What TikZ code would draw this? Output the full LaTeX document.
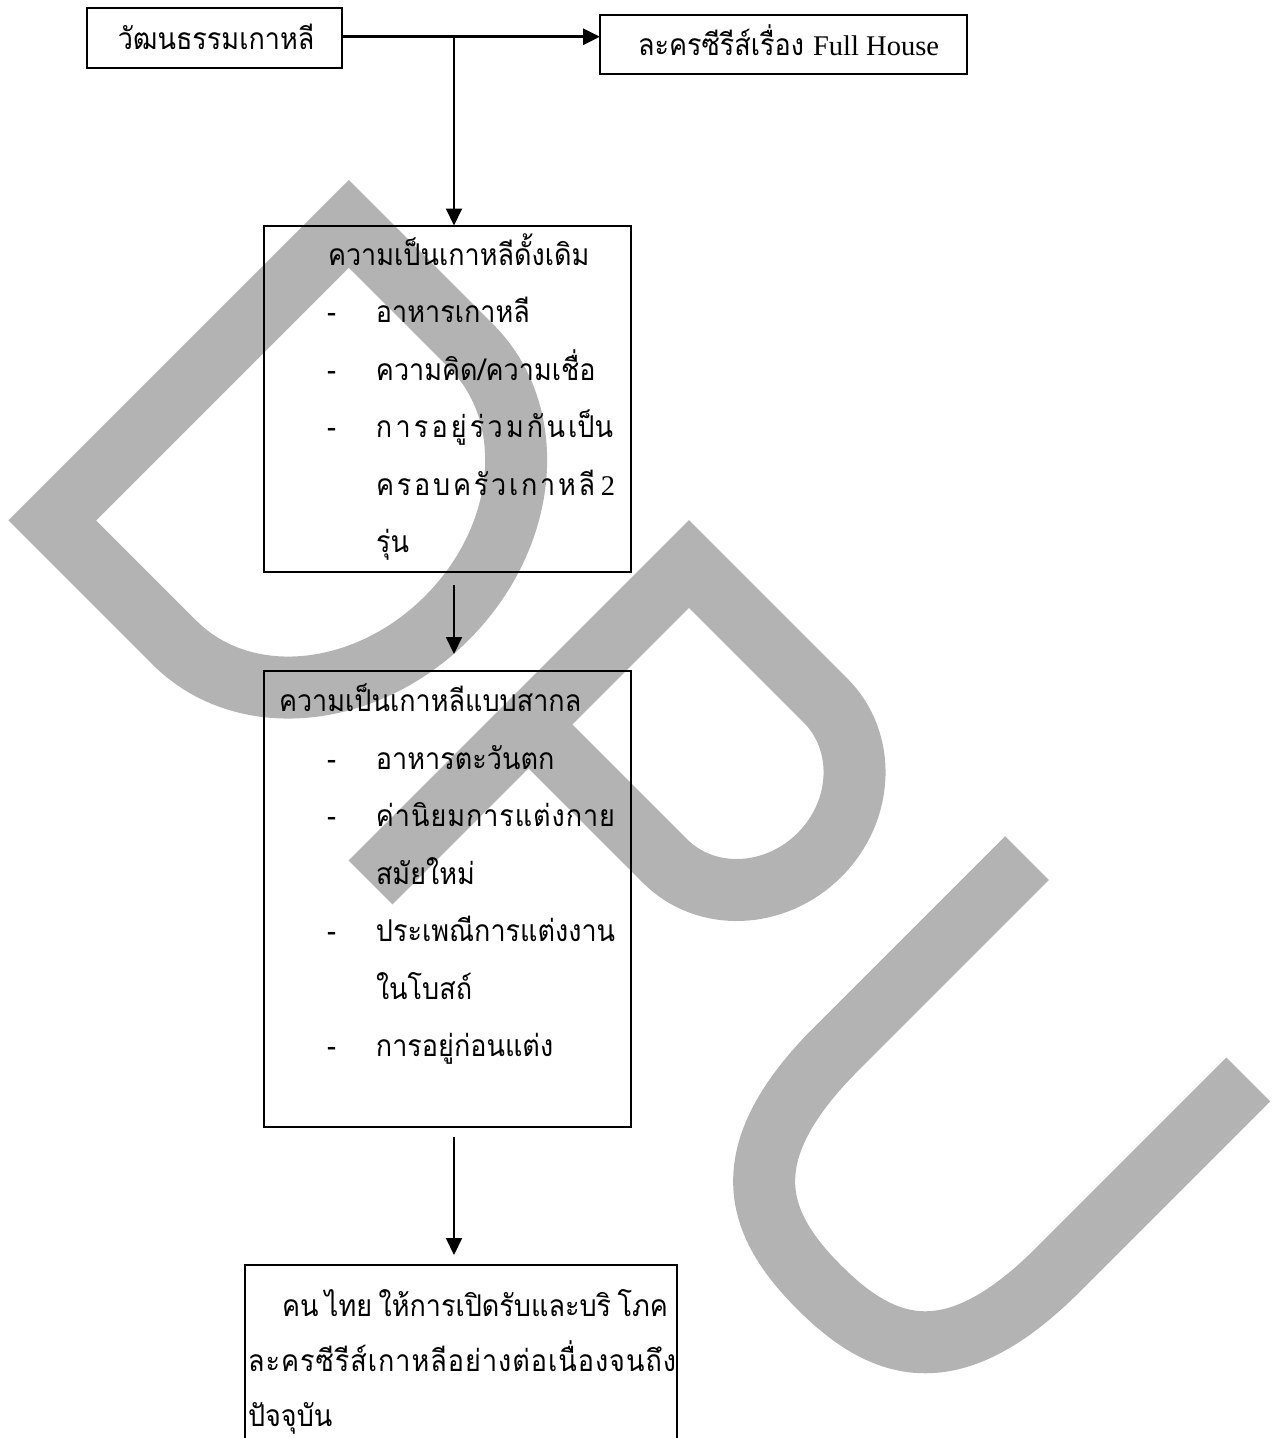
\documentclass[tikz,border=0pt]{standalone}
\usepackage{fontspec}
\usepackage{tikz}
\usetikzlibrary{arrows.meta}
\newfontfamily\thaifont[Script=Thai,FakeStretch=0.9]{Loma}
\newfontfamily\latinfont[Scale=0.95]{Liberation Serif}
\definecolor{wmgray}{RGB}{179,179,179}
\newlength\px
\setlength\px{0.02cm}
% box text: width, height, first baseline, line skip, lines
\newcommand\boxtext[5]{\parbox[c][#2\px][t]{#1\px}{\thaifont\fontsize{30\px}{#4\px}\selectfont\rule{0pt}{#3\px}#5}}
\newcommand\dashitem[1]{\hspace*{63\px}\makebox[49\px][l]{-}#1}
\newcommand\contline[1]{\hspace*{112\px}#1}
\newcommand\spread[2]{\makebox[#1\px][s]{#2}}

\tikzset{
  frame/.style={draw=black,line width=0.04cm,inner sep=0pt,outer sep=0pt,anchor=north west},
  link/.style={->,line width=0.04cm},
  wm/.style={draw=wmgray,line width=1.24cm,line join=miter}
}

\begin{document}
\begin{tikzpicture}[>={Triangle[length=0.34cm,width=0.32cm]},x=0.02cm,y=-0.02cm]
\clip (0,0) rectangle (1274,1438);
% watermark DPU, drawn in the slanted letter frame
\begin{scope}[x={(0.014142cm,-0.014142cm)},y={(0.014142cm,0.014142cm)}]
\draw[wm] (405,88.4) -- (405,-331) -- (578,-331) .. controls (674.6,-331) and (753,-237) .. (753,-121.3)
  .. controls (753,-5) and (674.6,88.4) .. (578,88.4) -- cycle;
\draw[wm] (886,-362) -- (886,88.4) -- (1079,88.4) .. controls (1137,88.4) and (1184,37.7) .. (1184,-25)
  .. controls (1184,-87.7) and (1137,-138.6) .. (1079,-138.6) -- (886,-138.6);
\draw[wm] (1333,119.4) -- (1333,-150) .. controls (1333,-300) and (1399.5,-331) .. (1489.5,-331)
  .. controls (1579.5,-331) and (1646,-300) .. (1646,-150) -- (1646,119.4);
\end{scope}

\node[frame] (culture) at (87,8) {\boxtext{255}{60}{41.6}{57.5}{\hspace*{31\px}วัฒนธรรมเกาหลี}};
\node[frame] (series) at (600,15) {\boxtext{367}{58.5}{40}{57.5}{\hspace*{38\px}ละครซีรีส์เรื่อง {\latinfont Full House}}};
\node[frame] (trad) at (264,225.5) {\boxtext{367}{346.5}{39.5}{57.5}{%
  \hspace*{64\px}ความเป็นเกาหลีดั้งเดิม\\
  \dashitem{อาหารเกาหลี}\\
  \dashitem{ความคิด/ความเชื่อ}\\
  \dashitem{\spread{237}{ก\hfill า\hfill ร\hfill อ\hfill ยู่\hfill ร่\hfill ว\hfill ม\hfill กั\hfill น\hfill เป็น}}\\
  \contline{\spread{239}{ค\hfill ร\hfill อ\hfill บ\hfill ค\hfill รั\hfill ว\hfill เ\hfill ก\hfill า\hfill ห\hfill ลี\hfill\hfill {\latinfont 2}}}\\
  \contline{รุ่น}}};
\node[frame] (intl) at (264,671) {\boxtext{367}{456}{40.7}{57.5}{%
  \hspace*{15\px}ความเป็นเกาหลีแบบสากล\\
  \dashitem{อาหารตะวันตก}\\
  \dashitem{\spread{239}{ค่\hfill า\hfill นิ\hfill ย\hfill ม\hfill ก\hfill า\hfill ร\hfill แ\hfill ต่\hfill ง\hfill ก\hfill า\hfill ย}}\\
  \contline{สมัยใหม่}\\
  \dashitem{\spread{237}{ป\hfill ร\hfill ะ\hfill เ\hfill พ\hfill ณี\hfill ก\hfill า\hfill ร\hfill แ\hfill ต่\hfill ง\hfill ง\hfill า\hfill น}}\\
  \contline{ในโบสถ์}\\
  \dashitem{การอยู่ก่อนแต่ง}}};
\node[frame] (result) at (245,1265) {\boxtext{432}{215}{51.7}{55}{%
  \hspace*{37\px}\spread{386}{คน\hfill ไทย\hfill ให้การเปิดรับและบริ\hfill โภค}\\
  \hspace*{3\px}\spread{428}{ล\hfill ะ\hfill ค\hfill ร\hfill ซี\hfill รี\hfill ส์\hfill เ\hfill ก\hfill า\hfill ห\hfill ลี\hfill อ\hfill ย่\hfill า\hfill ง\hfill ต่\hfill อ\hfill เ\hfill นื่\hfill อ\hfill ง\hfill จ\hfill น\hfill ถึ\hfill ง}\\
  \hspace*{3\px}ปัจจุบัน}};

% connectors
\coordinate (split) at (454,36.7);
\draw[->,line width=0.06cm] (culture.east |- split) -- (series.west |- split);
\draw[link] (split) -- (split |- trad.north);
\draw[link,shorten <=0.26cm,shorten >=0.34cm] (trad.south -| split) -- (intl.north -| split);
\draw[link,shorten <=0.2cm,shorten >=0.2cm] (intl.south -| split) -- (result.north -| split);
\end{tikzpicture}
\end{document}
